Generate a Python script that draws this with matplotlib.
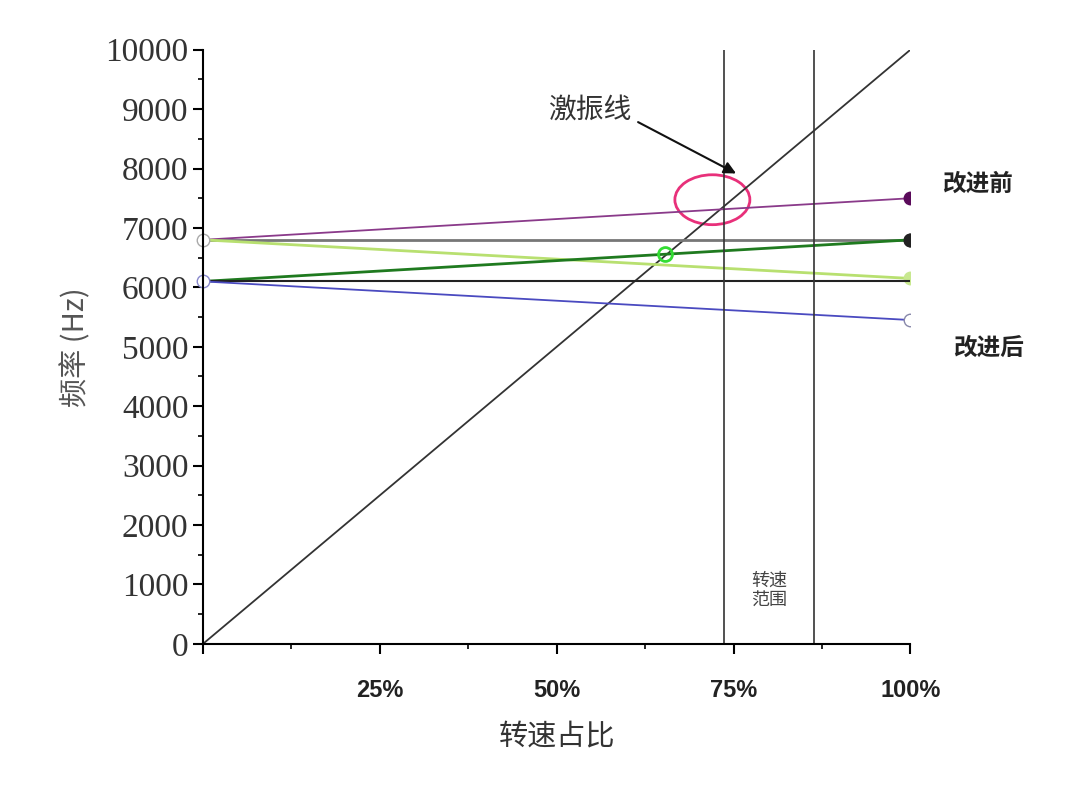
import matplotlib.pyplot as plt
from matplotlib.patches import Ellipse
from matplotlib.ticker import MultipleLocator, FuncFormatter

plt.rcParams["font.family"] = ["Noto Sans CJK SC", "DejaVu Sans"]

# speed ratio (%) endpoints and frequencies (Hz)
x_ends = [0, 100]
purple = [6800, 7500]
gray = [6800, 6800]
light_green = [6800, 6150]
dark_green = [6100, 6800]
black = [6100, 6100]
blue = [6100, 5450]
excite = [0, 10000]
range_lo, range_hi = 73.7, 86.3

fig = plt.figure(figsize=(10.8, 7.89), dpi=100)
ax = fig.add_axes([0.188, 0.184, 0.655, 0.753])

ax.plot(x_ends, excite, color="#333333", lw=1.3)
ax.plot(x_ends, purple, color="#8a3a8a", lw=1.3, marker="o", ms=9, markevery=[1], mfc="#5a0a5a", mec="#5a0a5a")
ax.plot(x_ends, gray, color="#777777", lw=2, marker="o", ms=9, markevery=[1], mfc="#222222", mec="#222222")
ax.plot(x_ends, light_green, color="#b8e070", lw=2, marker="o", ms=9, markevery=[1], mfc="#c8e890", mec="#c8e890")
ax.plot(x_ends, dark_green, color="#1f7a1f", lw=2, marker="o", ms=9, markevery=[1], mfc="#222222", mec="#222222")
ax.plot(x_ends, black, color="#222222", lw=1.5)
ax.plot(x_ends, blue, color="#4a4ac0", lw=1.3, marker="o", ms=9, markevery=[1], mfc="white", mec="#8888aa")
ax.plot([0], [6800], marker="o", ms=9, mfc="white", mec="#aaaaaa", clip_on=False)
ax.plot([0], [6100], marker="o", ms=9, mfc="white", mec="#8888cc", clip_on=False)

ax.axvline(range_lo, color="#333333", lw=1.2)
ax.axvline(range_hi, color="#333333", lw=1.2)

ax.add_patch(Ellipse((72, 7475), 10.6, 840, fill=False, ec="#e8307a", lw=2))
ax.plot([65.3], [6560], marker="o", ms=10, mfc="none", mec="#33dd33", mew=2)

ax.annotate("激振线", xy=(75.7, 7895), xytext=(54.7, 8990), fontsize=20, color="#333333",
            ha="center", va="center",
            arrowprops=dict(arrowstyle="-|>", color="#111111", lw=1.5,
                            relpos=(1.0, 0.2), shrinkA=3, mutation_scale=18))
ax.text(109.5, 7750, "改进前", fontsize=17, fontweight="bold", ha="center", va="center", color="#222222")
ax.text(111, 4980, "改进后", fontsize=17, fontweight="bold", ha="center", va="center", color="#222222")
ax.text(80, 900, "转速\n范围", fontsize=13, ha="center", va="center", color="#444444", linespacing=1.1)

ax.set_xlim(0, 100)
ax.set_ylim(0, 10000)
ax.spines["top"].set_visible(False)
ax.spines["right"].set_visible(False)
ax.spines["left"].set_linewidth(1.5)
ax.spines["bottom"].set_linewidth(1.5)
ax.yaxis.set_major_locator(MultipleLocator(1000))
ax.yaxis.set_minor_locator(MultipleLocator(500))
ax.xaxis.set_major_locator(MultipleLocator(25))
ax.xaxis.set_minor_locator(MultipleLocator(12.5))
ax.xaxis.set_major_formatter(FuncFormatter(lambda v, p: "" if v == 0 else "%d%%" % v))
ax.tick_params(axis="y", labelsize=24, length=7, width=1.5, labelcolor="#333333")
ax.tick_params(axis="x", labelsize=17, length=7, width=1.5, pad=18, labelcolor="#222222")
ax.tick_params(which="minor", length=3.5, width=1.2)
for lab in ax.get_yticklabels():
    lab.set_family("Liberation Serif")
for lab in ax.get_xticklabels():
    lab.set_family("Liberation Sans")
    lab.set_fontweight("bold")

ax.set_xlabel("转速占比", fontsize=21, color="#333333", labelpad=14)
ax.set_ylabel("频率 (Hz)", fontsize=21, color="#555555", labelpad=10)

fig.savefig("out.png", dpi=100)
